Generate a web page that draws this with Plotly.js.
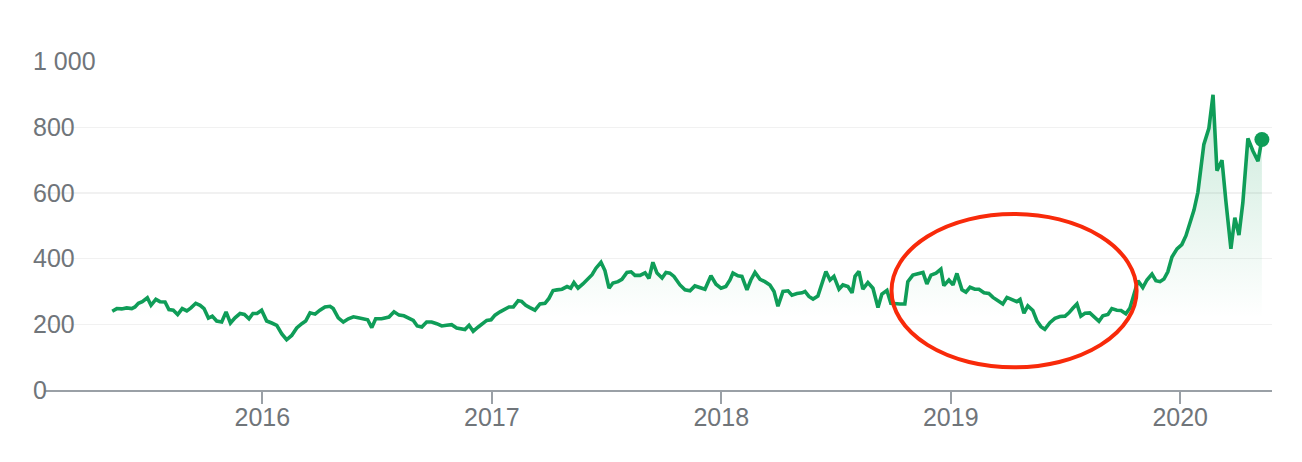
<!DOCTYPE html>
<html><head><meta charset="utf-8">
<script src="https://cdn.plot.ly/plotly-3.0.1.min.js"></script>
<style>html,body{margin:0;padding:0;background:#fff}#chart{width:1302px;height:462px}</style>
</head><body><div id="chart"></div>
<script>
// Time axis as decimal years (roughly weekly points)
const years = [
2015.346,2015.366,2015.387,2015.409,2015.431,2015.445,2015.460,2015.477,2015.499,2015.515,2015.536,2015.554,2015.576,2015.593,2015.612,2015.631,2015.651,2015.671,2015.689,2015.710,2015.729,2015.746,2015.765,2015.782,2015.801,2015.823,2015.842,2015.861,2015.881,2015.903,2015.922,2015.942,2015.959,2015.977,2015.997,
2016.019,2016.041,2016.063,2016.085,2016.106,2016.128,2016.150,2016.172,2016.189,2016.208,2016.230,2016.251,2016.273,2016.295,2016.309,2016.331,2016.353,2016.375,2016.397,2016.418,2016.440,2016.459,2016.477,2016.494,2016.520,2016.535,2016.552,2016.574,2016.596,2016.617,2016.639,2016.658,2016.675,2016.695,2016.716,2016.738,2016.760,2016.782,2016.803,2016.825,2016.847,2016.869,2016.883,2016.901,2016.919,2016.941,2016.963,2016.978,2016.997,
2017.014,2017.036,2017.058,2017.075,2017.094,2017.115,2017.130,2017.148,2017.166,2017.188,2017.210,2017.232,2017.249,2017.267,2017.284,2017.306,2017.328,2017.344,2017.358,2017.376,2017.397,2017.419,2017.437,2017.454,2017.476,2017.493,2017.511,2017.528,2017.550,2017.567,2017.589,2017.607,2017.624,2017.646,2017.668,2017.685,2017.702,2017.720,2017.742,2017.759,2017.776,2017.794,2017.820,2017.842,2017.864,2017.885,2017.907,2017.929,2017.955,2017.977,2017.999,
2018.020,2018.038,2018.051,2018.073,2018.090,2018.112,2018.129,2018.147,2018.169,2018.190,2018.212,2018.230,2018.247,2018.269,2018.291,2018.308,2018.330,2018.352,2018.365,2018.382,2018.400,2018.421,2018.439,2018.456,2018.474,2018.491,2018.513,2018.530,2018.552,2018.570,2018.583,2018.600,2018.617,2018.639,2018.661,2018.683,2018.700,2018.722,2018.739,2018.761,2018.779,2018.800,2018.813,2018.835,2018.857,2018.879,2018.896,2018.914,2018.936,2018.957,2018.970,2018.992,
2019.010,2019.027,2019.049,2019.066,2019.084,2019.105,2019.123,2019.145,2019.166,2019.184,2019.206,2019.227,2019.245,2019.267,2019.288,2019.302,2019.319,2019.336,2019.358,2019.376,2019.393,2019.410,2019.432,2019.454,2019.476,2019.498,2019.515,2019.532,2019.550,2019.567,2019.585,2019.606,2019.624,2019.646,2019.663,2019.685,2019.702,2019.724,2019.742,2019.763,2019.781,2019.798,2019.816,2019.837,2019.855,2019.877,2019.894,2019.912,2019.929,2019.946,2019.964,2019.986,
2020.007,2020.025,2020.042,2020.060,2020.077,2020.090,2020.103,2020.125,2020.143,2020.160,2020.182,2020.199,2020.221,2020.238,2020.256,2020.273,2020.295,2020.317,2020.339,2020.356
];
const values = [
240,248,247,250,248,253,264,269,281,258,276,269,268,245,243,230,248,241,250,264,258,248,219,225,210,207,238,204,220,233,230,217,233,233,243,
210,204,197,171,153,166,189,202,210,235,231,243,253,255,248,220,207,217,223,220,217,214,190,217,217,220,222,238,228,226,220,212,195,192,207,207,202,195,197,199,189,187,184,197,179,192,204,212,214,
228,238,245,253,253,272,270,258,251,243,262,264,279,303,305,307,315,310,327,310,323,337,351,371,389,364,310,326,330,337,358,360,349,349,357,340,389,356,341,358,356,346,320,305,302,317,313,307,348,322,310,
315,335,356,348,346,305,335,358,337,330,320,300,255,300,302,289,294,296,300,285,277,286,325,361,335,346,307,320,315,296,346,361,307,327,310,251,292,303,264,262,262,262,330,350,355,358,323,350,356,368,318,335,
320,355,305,298,313,307,307,296,294,282,272,262,282,276,269,276,234,256,242,210,193,185,205,218,224,225,235,249,262,225,234,235,223,209,226,230,248,243,242,232,250,292,333,312,335,353,333,330,338,360,405,430,
443,470,505,548,602,675,748,797,899,668,700,575,430,525,472,571,766,728,697,763
];
const yTickVals = [0, 200, 400, 600, 800, 1000];
const yTickText = ['0', '200', '400', '600', '800', '1 000'];
const xTickVals = [2016, 2017, 2018, 2019, 2020];
const xTickText = ['2016', '2017', '2018', '2019', '2020'];
// hand-drawn highlight ellipse (x in years, y in values)
const highlight = {x0: 2018.742, x1: 2019.810, y0: 69, y1: 536};

const GREEN = '#0f9d58';
const GRAY_TEXT = '#70757a';
const AXIS_GRAY = '#9aa0a6';
const FONT = '"Liberation Sans", Arial, sans-serif';

const lastX = years[years.length - 1];
const lastY = values[values.length - 1];

const traces = [
  {
    type: 'scatter', mode: 'lines', x: years, y: values,
    line: {color: GREEN, width: 3.6},
    fill: 'tozeroy',
    fillgradient: {
      type: 'vertical',
      colorscale: [[0, 'rgba(15,157,88,0)'], [1, 'rgba(15,157,88,0.22)']],
      start: 220, stop: 900
    },
    hoverinfo: 'skip'
  },
  {
    type: 'scatter', mode: 'markers', x: [lastX], y: [lastY],
    marker: {color: GREEN, size: 15},
    hoverinfo: 'skip'
  }
];

const layout = {
  width: 1302, height: 462,
  margin: {l: 45, r: 30, t: 61, b: 72, pad: 0},
  paper_bgcolor: '#ffffff', plot_bgcolor: '#ffffff',
  showlegend: false,
  font: {family: FONT, size: 25, color: GRAY_TEXT},
  xaxis: {
    range: [2015.053, 2020.400],
    tickmode: 'array', tickvals: xTickVals, ticktext: xTickText,
    showgrid: false, zeroline: false,
    showline: true, linecolor: AXIS_GRAY, linewidth: 2,
    ticks: 'outside', ticklen: 12, tickwidth: 2, tickcolor: AXIS_GRAY,
    ticklabelstandoff: -8,
    tickfont: {family: FONT, size: 25, color: GRAY_TEXT},
    fixedrange: true
  },
  yaxis: {
    range: [0, 1002],
    tickmode: 'array', tickvals: yTickVals, ticktext: yTickText,
    showgrid: true, gridcolor: '#f1f1f1', gridwidth: 1.5,
    zeroline: false, showline: false, ticks: '',
    ticklabelposition: 'inside', ticklabelstandoff: -15, ticklabeloverflow: 'allow',
    tickfont: {family: FONT, size: 25, color: GRAY_TEXT},
    fixedrange: true
  },
  shapes: [{
    type: 'circle', xref: 'x', yref: 'y',
    x0: highlight.x0, x1: highlight.x1, y0: highlight.y0, y1: highlight.y1,
    line: {color: '#f82a0a', width: 4}, layer: 'above'
  }]
};

Plotly.newPlot('chart', traces, layout, {displayModeBar: false, staticPlot: true});
</script>
</body></html>
